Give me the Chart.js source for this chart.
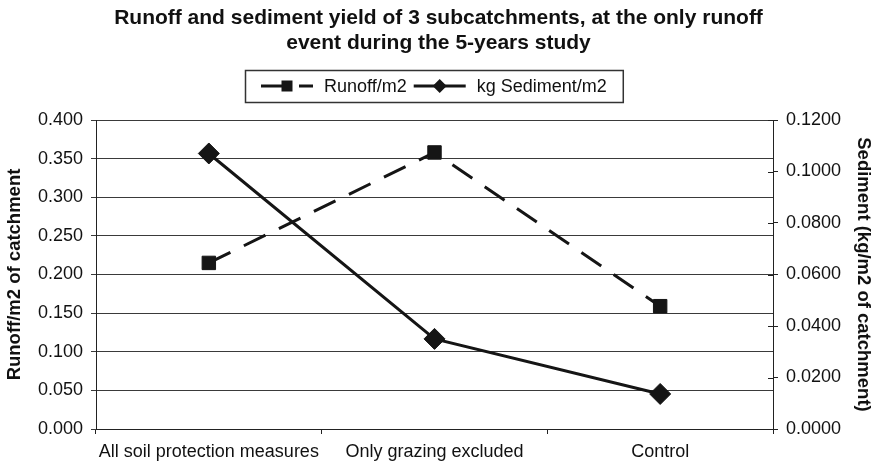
<!DOCTYPE html>
<html lang="en">
  <head>
    <meta charset="UTF-8" />
    <title>Runoff and sediment yield</title>
    <script src="https://cdn.jsdelivr.net/npm/chart.js"></script>
    <style>
      html, body { margin: 0; padding: 0; background: #fff; }
      #wrap { width: 877px; height: 466px; }
    </style>
  </head>
  <body>
    <div id="wrap"><canvas id="runoffChart" width="877" height="466"></canvas></div>

    <script>
      // subcatchments and measured values
      const categories = ["All soil protection measures", "Only grazing excluded", "Control"];
      const runoffValues = [0.215, 0.358, 0.159];      // runoff per m2 (left axis)
      const sedimentValues = [0.107, 0.035, 0.0136];   // kg sediment per m2 (right axis)

      const FONT = '"Liberation Sans", Arial, sans-serif';
      const INK = "#151515";

      // legend drawn as a boxed strip: line sample with marker, then the label
      const boxedLegend = {
        id: "boxedLegend",
        afterDraw(chart) {
          const ctx = chart.ctx;
          ctx.save();
          ctx.font = "18px " + FONT;
          const pad = 16, sampleW = 52, textGap = 11, itemGap = 7;
          const items = chart.data.datasets.map((ds) => ({ ds, w: ctx.measureText(ds.label).width }));
          let total = pad * 2;
          items.forEach((it, i) => {
            total += sampleW + textGap + it.w + (i < items.length - 1 ? itemGap : 0);
          });
          const top = 70, bottom = 102, cy = (top + bottom) / 2;
          let x = Math.round(434 - total / 2);

          ctx.strokeStyle = "#333";
          ctx.lineWidth = 1.5;
          ctx.strokeRect(x + 0.5, top + 0.5, total, bottom - top);

          x += pad;
          items.forEach((it) => {
            const ds = it.ds;
            ctx.strokeStyle = INK;
            ctx.lineWidth = 3;
            ctx.setLineDash(ds.borderDash ? [24, 14] : []);
            ctx.beginPath();
            ctx.moveTo(x, cy);
            ctx.lineTo(x + sampleW, cy);
            ctx.stroke();
            ctx.setLineDash([]);

            const mx = x + sampleW / 2;
            ctx.fillStyle = INK;
            ctx.beginPath();
            if (ds.pointStyle === "rect") {
              ctx.rect(mx - 5.5, cy - 5.5, 11, 11);
            } else {
              ctx.moveTo(mx, cy - 7);
              ctx.lineTo(mx + 7, cy);
              ctx.lineTo(mx, cy + 7);
              ctx.lineTo(mx - 7, cy);
              ctx.closePath();
            }
            ctx.fill();

            x += sampleW + textGap;
            ctx.fillStyle = "#111";
            ctx.textBaseline = "middle";
            ctx.textAlign = "left";
            ctx.fillText(ds.label, x, cy + 1);
            x += it.w + itemGap;
          });
          ctx.restore();
        },
      };

      // the right axis has tick marks crossing the axis line
      const crossTicks = {
        id: "crossTicks",
        afterDraw(chart) {
          const s = chart.scales.y1;
          const ctx = chart.ctx;
          ctx.save();
          ctx.strokeStyle = "#222";
          ctx.lineWidth = 1;
          ctx.beginPath();
          s.ticks.forEach((t, i) => {
            const y = Math.round(s.getPixelForTick(i)) + 0.5;
            ctx.moveTo(s.left - 5, y);
            ctx.lineTo(s.left, y);
          });
          ctx.stroke();
          ctx.restore();
        },
      };

      new Chart(document.getElementById("runoffChart"), {
        type: "line",
        data: {
          labels: categories,
          datasets: [
            {
              label: "Runoff/m2",
              data: runoffValues,
              yAxisID: "y",
              borderColor: INK,
              borderWidth: 3,
              borderDash: [24, 15],
              pointStyle: "rect",
              pointRadius: 9.5,
              pointBackgroundColor: INK,
              pointBorderColor: INK,
              pointBorderWidth: 1,
              tension: 0,
            },
            {
              label: "kg Sediment/m2",
              data: sedimentValues,
              yAxisID: "y1",
              borderColor: INK,
              borderWidth: 3,
              pointStyle: "rectRot",
              pointRadius: 10.5,
              pointBackgroundColor: INK,
              pointBorderColor: INK,
              pointBorderWidth: 1,
              tension: 0,
            },
          ],
        },
        options: {
          responsive: false,
          animation: false,
          layout: { padding: 0 },
          plugins: {
            legend: { display: false },
            tooltip: { enabled: false },
            title: {
              display: true,
              text: [
                "Runoff and sediment yield of 3 subcatchments, at the only runoff",
                "event during the 5-years study",
              ],
              color: "#111",
              font: { family: FONT, size: 21, weight: "bold", lineHeight: 1.2 },
              padding: { top: 5.4, bottom: 64.2 },
            },
          },
          scales: {
            x: {
              offset: true,
              grid: { offset: true, drawOnChartArea: false, drawTicks: true, tickLength: 5, color: "#222" },
              border: { display: true, color: "#222", width: 1 },
              ticks: {
                color: "#111",
                font: { family: FONT, size: 18 },
                padding: 7,
                maxRotation: 0,
                autoSkip: false,
              },
              afterFit: (s) => { s.height = 37; },
            },
            y: {
              position: "left",
              min: 0,
              max: 0.4,
              ticks: {
                stepSize: 0.05,
                color: "#111",
                font: { family: FONT, size: 18 },
                padding: 8,
                callback: (v) => Number(v).toFixed(3),
              },
              grid: { color: "#3a3a3a", lineWidth: 1, tickLength: 5, drawTicks: true },
              border: { display: true, color: "#222", width: 1 },
              title: {
                display: true,
                text: "Runoff/m2 of catchment",
                color: "#111",
                font: { family: FONT, size: 18.5, weight: "bold", lineHeight: 1.2 },
                padding: { top: 4, bottom: 0 },
              },
              afterFit: (s) => { s.width = 96; },
            },
            y1: {
              position: "right",
              min: 0,
              max: 0.12,
              ticks: {
                stepSize: 0.02,
                color: "#111",
                font: { family: FONT, size: 18 },
                padding: 8,
                callback: (v) => Number(v).toFixed(4),
              },
              grid: { drawOnChartArea: false, drawTicks: true, tickLength: 5, color: "#222" },
              border: { display: true, color: "#222", width: 1 },
              title: {
                display: true,
                text: "Sediment (kg/m2 of catchment)",
                color: "#111",
                font: { family: FONT, size: 18.5, weight: "bold", lineHeight: 1.2 },
                padding: { top: 3, bottom: 0 },
              },
              afterFit: (s) => { s.width = 104; },
            },
          },
        },
        plugins: [boxedLegend, crossTicks],
      });
    </script>
  </body>
</html>
